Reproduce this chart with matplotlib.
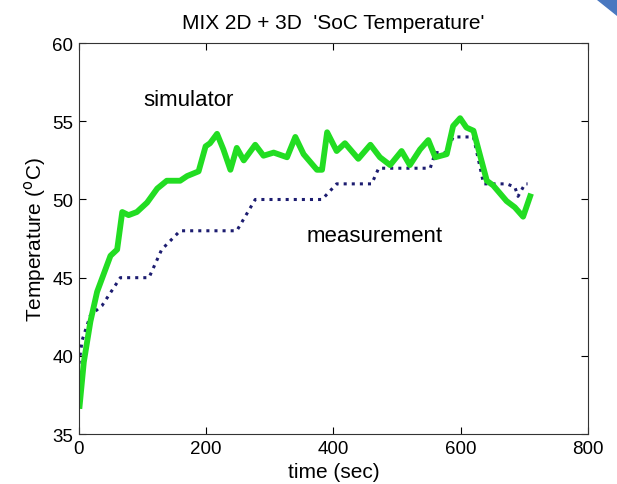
import numpy as np
import matplotlib.pyplot as plt
from matplotlib.patches import Polygon

plt.rcParams['font.family'] = ['Liberation Sans', 'DejaVu Sans']

# simulator (green)
t_sim = [1, 7.6, 18, 28.5, 49.5, 60, 68, 78, 91, 107, 123, 138, 159, 170, 188, 199, 206, 217,
         227, 238, 248, 259, 277, 290, 306, 327, 340, 353, 374, 382, 390, 405, 418, 439, 458,
         473, 489, 507, 520, 536, 549, 560, 578, 588, 599, 609, 620, 641, 651, 672, 685, 698, 709]
T_sim = [36.8, 39.6, 42.2, 44.1, 46.4, 46.8, 49.2, 49.0, 49.2, 49.8, 50.7, 51.2, 51.2, 51.5, 51.8,
         53.4, 53.6, 54.2, 53.2, 51.9, 53.3, 52.5, 53.5, 52.8, 53.0, 52.7, 54.0, 52.9, 51.9, 51.9,
         54.3, 53.1, 53.6, 52.6, 53.5, 52.7, 52.2, 53.1, 52.2, 53.2, 53.8, 52.7, 52.9, 54.7, 55.2,
         54.6, 54.4, 51.2, 50.9, 49.9, 49.5, 48.9, 50.2]

# measurement (dotted)
t_meas = [0, 5, 18, 30, 36, 65, 110, 130, 159, 248, 277, 382, 405, 460, 471, 552, 560, 578,
          588, 620, 636, 672, 685, 690, 701, 705]
T_meas = [39.5, 41, 42.6, 43, 43.2, 45, 45, 46.8, 48, 48, 50, 50, 51, 51, 52, 52, 53, 53,
          54, 54, 51, 51, 50.8, 50.2, 51, 51]

fig = plt.figure(figsize=(6.17, 4.85), dpi=100)
ax = fig.add_axes([0.128, 0.103, 0.825, 0.806])

ax.plot(t_meas, T_meas, color='#1c1c70', linestyle=':', linewidth=2.2)
ax.plot(t_sim, T_sim, color='#22dd22', linewidth=4.2)

ax.text(172, 56.4, 'simulator', fontsize=16, ha='center', va='center')
ax.text(465, 47.7, 'measurement', fontsize=16, ha='center', va='center')

ax.set_xlim(0, 800)
ax.set_ylim(35, 60)
ax.set_xticks(np.arange(0, 801, 200))
ax.set_yticks(np.arange(35, 61, 5))
ax.tick_params(direction='in', top=True, right=True, labelsize=13.5, length=5, pad=4)
for s in ax.spines.values():
    s.set_color('#333333')

ax.set_title("MIX 2D + 3D  'SoC Temperature'", fontsize=15, pad=11)
ax.set_xlabel('time (sec)', fontsize=15, labelpad=4)
ax.set_ylabel(r'Temperature ($^{\mathrm{o}}$C)', fontsize=15, labelpad=3)

# slide corner decoration
fig.patches.append(Polygon([[597 / 617, 1], [1, 1], [1, 1 - 16 / 485]], closed=True,
                           transform=fig.transFigure, color='#4a78c0'))

fig.savefig('out.png', dpi=100)
